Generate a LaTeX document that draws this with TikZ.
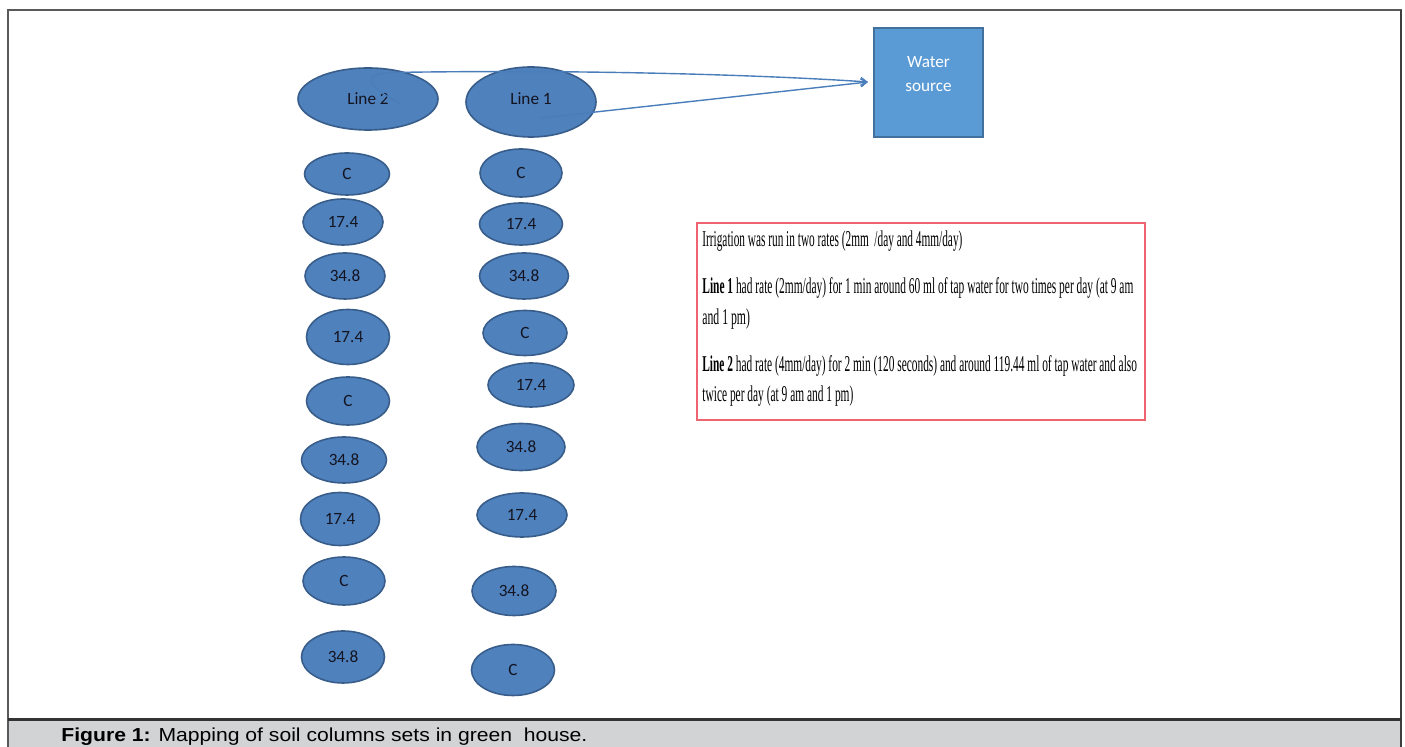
\documentclass[tikz,border=0pt]{standalone}
\usepackage{fontspec}
\usepackage{graphicx}
\setmainfont{Liberation Serif}
\newfontfamily\calib{Carlito}
\newfontfamily\arialf{Liberation Sans}
\usetikzlibrary{shapes.geometric,arrows.meta}
\definecolor{ellfill}{HTML}{4F81BD}
\definecolor{ellborder}{HTML}{385D8A}
\definecolor{wsfill}{HTML}{5B9BD5}
\definecolor{wsborder}{HTML}{41719C}
\definecolor{connc}{HTML}{4A7EBB}
\definecolor{redbox}{HTML}{EE6470}
\definecolor{capgray}{HTML}{D1D3D4}
\definecolor{framec}{HTML}{58595B}
\definecolor{txtdark}{HTML}{141420}
\newcommand\soil[6]{\node[soil, minimum width=#4*0.5pt, minimum height=#5*0.5pt] (#1) at (#2,#3) {#6};}
\newcommand\nline[5]{\node[anchor=base west,inner sep=0pt] (#1) at (#2,#3) {\resizebox{#4}{\height}{\fontsize{11.3}{13}\selectfont #5}};}
\begin{document}
\begin{tikzpicture}[x=0.5pt,y=-0.5pt,
  soil/.style={ellipse,draw=ellborder,fill=ellfill,line width=0.8pt,inner sep=0pt,
    font=\calib\fontsize{8.6}{10}\selectfont,text=txtdark},
  big/.style={soil,font=\calib\fontsize{8.6}{10}\selectfont},
  wsbox/.style={rectangle,draw=wsborder,fill=wsfill,line width=0.6pt,inner sep=0pt,
    minimum width=54.5pt,minimum height=54.5pt},
  wstext/.style={text=white,align=center,inner sep=0pt,
    font=\calib\fontsize{8.6}{12}\selectfont},
  conn/.style={draw=connc,line width=0.7pt},
  notebox/.style={rectangle,draw=redbox,line width=1pt,inner sep=0pt}]
\useasboundingbox (0,0) rectangle (1405,747);
\begin{scope}
\clip (0,0) rectangle (1405,747);
% frame and caption band
\fill[capgray] (8,720) rectangle (1401,760);
\draw[framec,line width=0.8pt] (8,760) -- (8,10) -- (1401,10) -- (1401,760);
\draw[framec!70!black,line width=1.3pt] (1401,10) -- (1401,760);
\draw[black!80,line width=1.4pt] (8,719.5) -- (1401,719.5);
\node[anchor=base west,inner sep=0pt] (cap) at (61,741.5)
  {\resizebox{263pt}{\height}{\arialf\fontsize{9.4}{11}\selectfont\textbf{Figure 1:} Mapping of soil columns sets in green~ house.}};
\end{scope}

% line ellipses
\node[big, minimum width=70pt, minimum height=31pt] (line2) at (368,99) {Line 2};
\node[big, minimum width=65pt, minimum height=35pt] (line1) at (531,102) {\raisebox{3pt}{Line 1}};

% water source
\node[wsbox] (ws) at (928.5,82.5) {};
\node[wstext] (wst) at (928.5,74) {Water\\source};

% connectors
\coordinate (wsin) at (868,82);
\coordinate (l2in) at (401,104);
\coordinate (l1in) at (541,118);
\draw[conn,-{Straight Barb[length=3pt,width=4pt]}] (l2in) .. controls (378,92) and (352,75) .. (392,72.5)
   .. controls (600,69) and (780,76) .. (wsin);
\draw[conn,-{Straight Barb[length=3pt,width=4pt]}] (l1in) -- (wsin);

% left column (Line 2)
\soil{a1}{347}{174}{85}{42}{C}
\soil{a2}{343}{222}{80}{46}{17.4}
\soil{a3}{345}{276}{80}{46}{34.8}
\soil{a4}{348}{337}{83}{55}{17.4}
\soil{a5}{348}{401}{83}{48}{C}
\soil{a6}{344}{460}{85}{46}{34.8}
\soil{a7}{340}{519}{79}{53}{17.4}
\soil{a8}{344}{581}{82}{48}{C}
\soil{a9}{343}{657}{83}{52}{34.8}

% right column (Line 1)
\soil{b1}{521}{173}{82}{48}{C}
\soil{b2}{521}{224}{83}{42}{17.4}
\soil{b3}{524}{276}{89}{46}{34.8}
\soil{b4}{525}{333}{84}{45}{C}
\soil{b5}{531}{385}{86}{44}{17.4}
\soil{b6}{521}{447}{88}{47}{34.8}
\soil{b7}{522}{515}{90}{44}{17.4}
\soil{b8}{514}{591}{84}{49}{34.8}
\soil{b9}{513}{670}{83}{51}{C}

% note box
\node[notebox, minimum width=224pt, minimum height=98.5pt, anchor=north west] (note) at (696,222.5) {};
\nline{t1}{702}{247}{130pt}{Irrigation was run in two rates (2mm~ /day and 4mm/day)}
\nline{t2}{702}{294}{215.5pt}{\textbf{Line 1} had rate (2mm/day) for 1 min around 60 ml of tap water for two times per day (at 9 am}
\nline{t3}{702}{325}{23.8pt}{and 1 pm)}
\nline{t4}{702}{372}{217.3pt}{\textbf{Line 2} had rate (4mm/day) for 2 min (120 seconds) and around 119.44 ml of tap water and also}
\nline{t5}{702}{402}{75.5pt}{twice per day (at 9 am and 1 pm)}
\end{tikzpicture}
\end{document}
